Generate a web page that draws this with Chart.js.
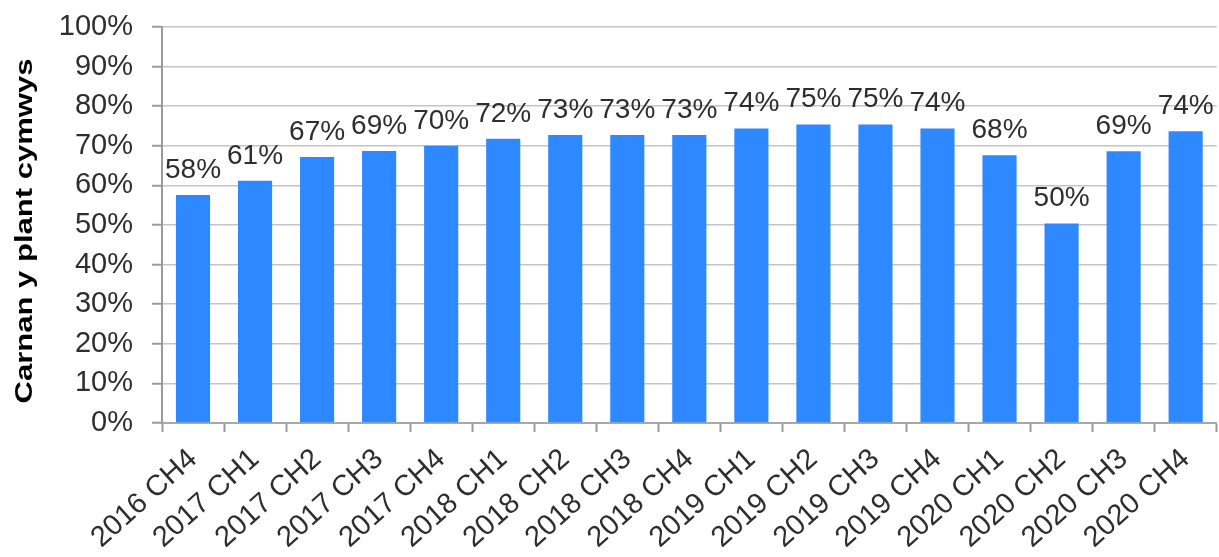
<!DOCTYPE html>
<html>
<head>
<meta charset="utf-8">
<script src="https://cdn.jsdelivr.net/npm/chart.js@4.4.0/dist/chart.umd.min.js"></script>
<style>
  html, body { margin: 0; padding: 0; background: #fff; }
  #wrap { width: 1219px; height: 557px; }
</style>
</head>
<body>
<div id="wrap"><canvas id="chart"></canvas></div>
<script>
const quarters = ['2016 CH4', '2017 CH1', '2017 CH2', '2017 CH3', '2017 CH4',
  '2018 CH1', '2018 CH2', '2018 CH3', '2018 CH4', '2019 CH1', '2019 CH2',
  '2019 CH3', '2019 CH4', '2020 CH1', '2020 CH2', '2020 CH3', '2020 CH4'];
const shares = [57.6, 61.2, 67.2, 68.7, 70.0, 71.8, 72.7, 72.7, 72.7, 74.4, 75.4,
  75.4, 74.4, 67.6, 50.4, 68.6, 73.7];
const yTitle = 'Carnan y plant cymwys';

const FONT = "'Liberation Sans', Arial, sans-serif";
const INK = '#2e2e2e';
const BLUE = '#2e88ff';

// percentage over each bar
const barLabels = {
  id: 'barLabels',
  afterDatasetsDraw(chart) {
    const ctx = chart.ctx;
    const meta = chart.getDatasetMeta(0);
    ctx.save();
    ctx.font = '28px ' + FONT;
    ctx.fillStyle = INK;
    ctx.textAlign = 'center';
    ctx.textBaseline = 'alphabetic';
    meta.data.forEach((bar, i) => {
      ctx.fillText(Math.round(shares[i]) + '%', bar.x, bar.y - 17);
    });
    ctx.restore();
  }
};

// rotated axis title, stretched along its length like the original
const axisTitle = {
  id: 'axisTitle',
  afterDraw(chart) {
    const ctx = chart.ctx;
    const mid = (chart.chartArea.top + chart.chartArea.bottom) / 2 + 6;
    ctx.save();
    ctx.translate(32, mid);
    ctx.rotate(-Math.PI / 2);
    ctx.font = 'bold 24px ' + FONT;
    const w = ctx.measureText(yTitle).width;
    ctx.scale(345 / w, 1);
    ctx.fillStyle = '#000';
    ctx.textAlign = 'center';
    ctx.textBaseline = 'alphabetic';
    ctx.fillText(yTitle, 0, 0);
    ctx.restore();
  }
};

new Chart(document.getElementById('chart'), {
  type: 'bar',
  data: {
    labels: quarters,
    datasets: [{
      data: shares,
      backgroundColor: BLUE,
      borderWidth: 0,
      barPercentage: 0.55,
      categoryPercentage: 1
    }]
  },
  options: {
    responsive: true,
    maintainAspectRatio: false,
    animation: false,
    layout: { padding: { top: 27, right: 2, left: 0, bottom: 0 } },
    plugins: {
      legend: { display: false },
      tooltip: { enabled: false }
    },
    scales: {
      x: {
        afterFit: (s) => { s.height = 134; },
        grid: {
          offset: true,
          drawOnChartArea: false,
          tickColor: '#9a9a9a',
          tickLength: 9,
          tickWidth: 2
        },
        border: { color: '#a8a8a8', width: 2 },
        ticks: {
          color: INK,
          font: { family: FONT, size: 29 },
          minRotation: 42,
          maxRotation: 42,
          autoSkip: false,
          padding: 10
        }
      },
      y: {
        min: 0,
        max: 100,
        afterFit: (s) => {
          s.width = 162;
          s.paddingTop = 0;
          s.paddingBottom = 0;
        },
        grid: {
          color: '#c4c4c4',
          lineWidth: 1.5,
          tickColor: '#9a9a9a',
          tickLength: 10,
          tickWidth: 2
        },
        border: { color: '#9a9a9a', width: 2 },
        ticks: {
          stepSize: 10,
          color: INK,
          padding: 19,
          font: { family: FONT, size: 29 },
          callback: (v) => v + '%'
        }
      }
    }
  },
  plugins: [barLabels, axisTitle]
});
</script>
</body>
</html>
